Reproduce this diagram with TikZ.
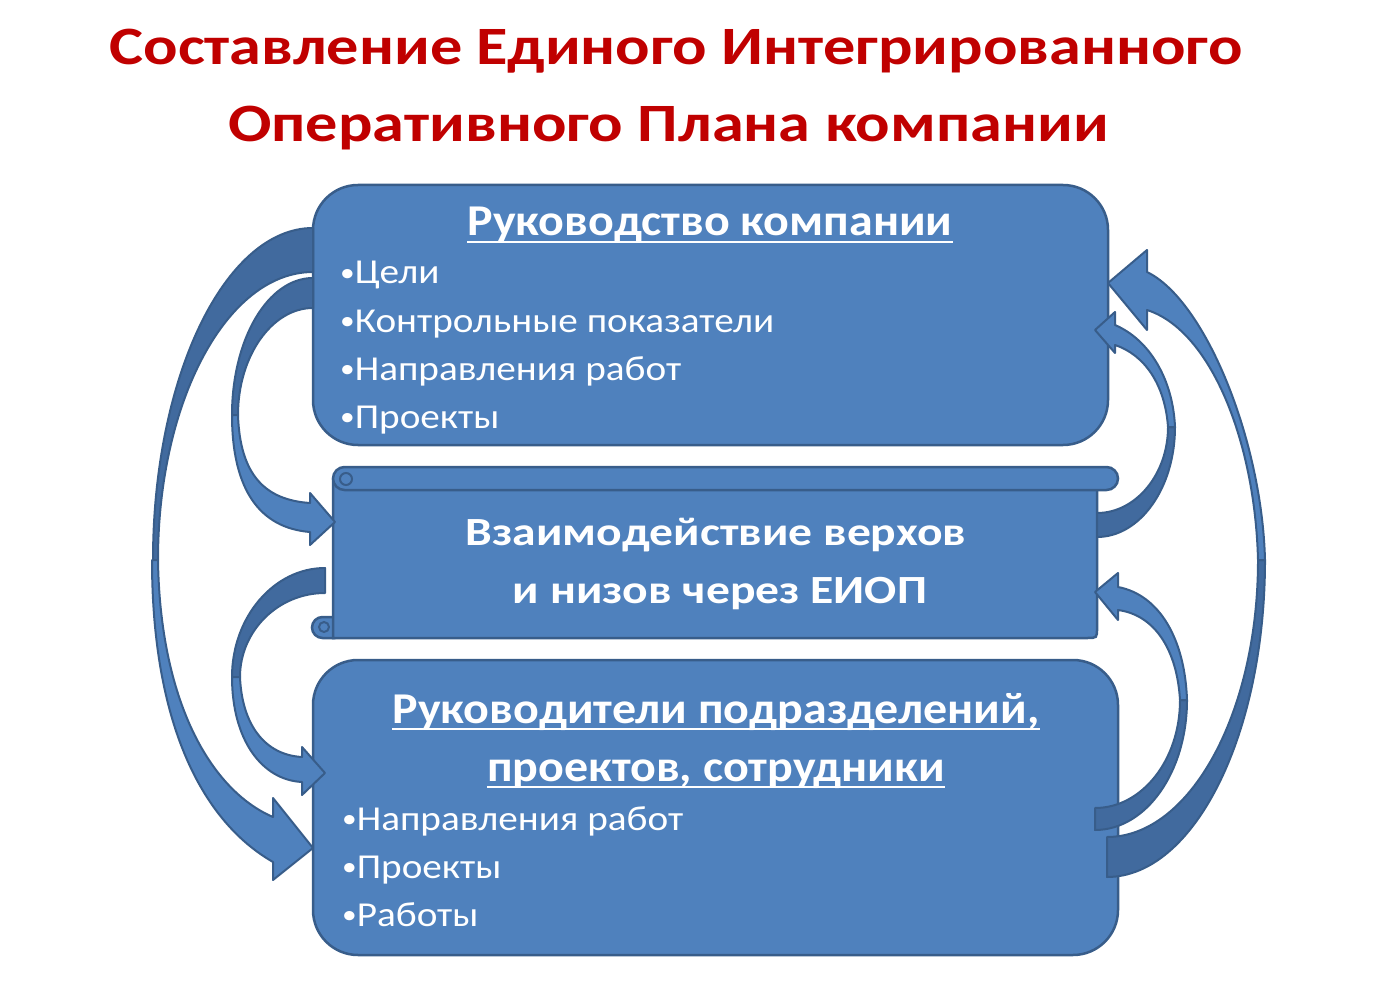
\documentclass[tikz,border=0pt]{standalone}
\usepackage{fontspec}
\setmainfont{Carlito}
\usepackage{tikz}
\definecolor{titlered}{HTML}{C00000}
\definecolor{boxblue}{HTML}{4F81BD}
\definecolor{edgeblue}{HTML}{385D8A}
\definecolor{backblue}{HTML}{416A9E}
\tikzset{
  blockbox/.style={fill=boxblue,draw=edgeblue,line width=2.5pt},
  backband/.style={fill=backblue,draw=edgeblue,line width=2pt,line join=round},
  frontband/.style={fill=boxblue,draw=edgeblue,line width=2pt,line join=round},
  titletext/.style={text=titlered,inner sep=0pt,anchor=base,font=\fontsize{54}{60}\selectfont\bfseries},
  headtext/.style={text=white,inner sep=0pt,anchor=base,font=\fontsize{44}{50}\selectfont\bfseries},
  itemtext/.style={text=white,inner sep=0pt,anchor=base west,font=\fontsize{35}{42}\selectfont},
  ulbar/.style={white,line width=2.5pt}
}
\newcommand{\widetxt}[2]{\scalebox{#1}[1]{#2}}
\newcommand{\itm}{\raisebox{2.5pt}{\scalebox{0.75}{•}}}

\begin{document}
\begin{tikzpicture}[x=1pt,y=-1pt]
\useasboundingbox (0,0) rectangle (1383,981);
% title
\node[titletext] (title1) at (676,65) {\widetxt{1.19}{Составление Единого Интегрированного}};
\node[titletext] (title2) at (668.5,142) {\widetxt{1.19}{Оперативного Плана компании}};

% boxes
\node[blockbox,rounded corners=45pt,minimum width=795pt,minimum height=260pt] (topbox) at (710.5,315) {};
\node[blockbox,rounded corners=45pt,minimum width=805pt,minimum height=295pt] (lowbox) at (715.5,807.5) {};

% scroll in the middle
\filldraw[blockbox,rounded corners=10.5pt] (312,617) rectangle (345,638);
\filldraw[blockbox] (333,480) -- (333,638) -- (1087,638) .. controls (1097,638) .. (1097,628) -- (1097,480) -- cycle;
\filldraw[blockbox,rounded corners=11.5pt] (333,467) rectangle (1118,490);
\draw[edgeblue,line width=2pt] (346,479) circle (6pt);
\draw[edgeblue,line width=2pt] (324,627) circle (5pt);

% texts of the boxes
\node[headtext] (tophead) at (710,236) {\widetxt{1.09}{Руководство компании}};
\draw[ulbar] ([yshift=-6pt]tophead.base west) -- ([yshift=-6pt]tophead.base east);
\node[itemtext] (t1) at (340,284) {\widetxt{1.12}{\itm Цели}};
\node[itemtext] (t2) at (340,332) {\widetxt{1.12}{\itm Контрольные показатели}};
\node[itemtext] (t3) at (340,380) {\widetxt{1.12}{\itm Направления работ}};
\node[itemtext] (t4) at (340,428) {\widetxt{1.12}{\itm Проекты}};

\node[headtext,font=\fontsize{40}{48}\selectfont\bfseries] (mid1) at (716,545) {\widetxt{1.19}{Взаимодействие верхов}};
\node[headtext,font=\fontsize{40}{48}\selectfont\bfseries] (mid2) at (720,603) {\widetxt{1.19}{и низов через ЕИОП}};

\node[headtext] (lowhead1) at (716,723) {\widetxt{1.09}{Руководители подразделений,}};
\draw[ulbar] ([yshift=-6pt]lowhead1.base west) -- ([yshift=-6pt]lowhead1.base east);
\node[headtext] (lowhead2) at (716,781) {\widetxt{1.09}{проектов, сотрудники}};
\draw[ulbar] ([yshift=-6pt]lowhead2.base west) -- ([yshift=-6pt]lowhead2.base east);
\node[itemtext] (b1) at (342,830) {\widetxt{1.12}{\itm Направления работ}};
\node[itemtext] (b2) at (342,878) {\widetxt{1.12}{\itm Проекты}};
\node[itemtext] (b3) at (342,926) {\widetxt{1.12}{\itm Работы}};

% left arrows
\filldraw[backband] (313,228) .. controls (225,228) and (153,377) .. (153,560) -- (158,560) .. controls (158,401) and (227,272) .. (313,272) -- cycle;
\filldraw[frontband] (152,560) .. controls (152,720) and (200,820) .. (273,862) -- (273,880) -- (313,848) -- (273,798) -- (273,817) .. controls (210,790) and (160,700) .. (158,560) -- cycle;

\filldraw[backband] (313,278) .. controls (268,278) and (232,339) .. (232,415) -- (238,415) .. controls (238,356) and (272,308) .. (313,308) -- cycle;
\filldraw[frontband] (232,415) .. controls (232,490) and (260,528) .. (310,532) -- (310,545) -- (335,522) -- (310,493) -- (310,503) .. controls (265,500) and (240,475) .. (238,415) -- cycle;

\filldraw[backband] (325,568) .. controls (274,568) and (232,617) .. (232,677) -- (240,677) .. controls (240,631) and (278,593) .. (325,593) -- cycle;
\filldraw[frontband] (232,677) .. controls (232,740) and (262,780) .. (302,782) -- (302,795) -- (325,773) -- (302,747) -- (302,757) .. controls (265,755) and (242,725) .. (240,677) -- cycle;

% right arrows
\filldraw[backband] (1107,877) .. controls (1194,877) and (1265,735) .. (1265,560) -- (1258,560) .. controls (1258,713) and (1190,837) .. (1107,837) -- cycle;
\filldraw[frontband] (1265,560) .. controls (1262,440) and (1205,300) .. (1147,272) -- (1147,250) -- (1108,283) -- (1147,330) -- (1147,310) .. controls (1210,330) and (1255,440) .. (1258,560) -- cycle;

\filldraw[backband] (1097,537) .. controls (1140,537) and (1175,488) .. (1175,427) -- (1168,427) .. controls (1168,474) and (1136,513) .. (1097,513) -- cycle;
\filldraw[frontband] (1175,427) .. controls (1173,380) and (1150,340) .. (1115,325) -- (1115,312) -- (1095,330) -- (1115,353) -- (1115,345) .. controls (1145,355) and (1165,385) .. (1168,427) -- cycle;

\filldraw[backband] (1095,830) .. controls (1146,830) and (1187,772) .. (1187,700) -- (1180,700) .. controls (1180,760) and (1142,808) .. (1095,808) -- cycle;
\filldraw[frontband] (1187,700) .. controls (1185,640) and (1160,595) .. (1118,587) -- (1118,573) -- (1095,592) -- (1118,620) -- (1118,610) .. controls (1155,615) and (1177,650) .. (1180,700) -- cycle;
\end{tikzpicture}
\end{document}
